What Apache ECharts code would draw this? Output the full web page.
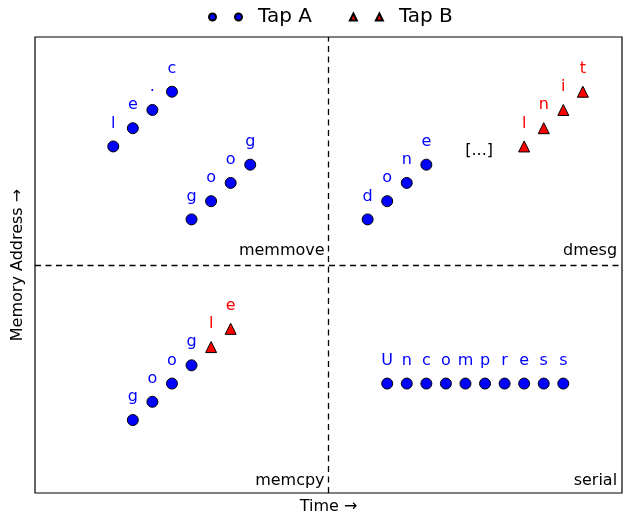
<!DOCTYPE html>
<html><head><meta charset="utf-8">
<script src="https://cdn.jsdelivr.net/npm/echarts@6/dist/echarts.min.js"></script>
<style>html,body{margin:0;padding:0;background:#fff}#c{width:627px;height:514px}</style>
</head><body><div id="c"></div>
<script>
// Tap A points: [time, address, char]
const tapA = [
  [4,19,'l'],[5,20,'e'],[6,21,'.'],[7,22,'c'],
  [8,15,'g'],[9,16,'o'],[10,17,'o'],[11,18,'g'],
  [17,15,'d'],[18,16,'o'],[19,17,'n'],[20,18,'e'],
  [5,4,'g'],[6,5,'o'],[7,6,'o'],[8,7,'g'],
  [18,6,'U'],[19,6,'n'],[20,6,'c'],[21,6,'o'],[22,6,'m'],[23,6,'p'],[24,6,'r'],[25,6,'e'],[26,6,'s'],[27,6,'s']
];
// Tap B points
const tapB = [
  [25,19,'l'],[26,20,'n'],[27,21,'i'],[28,22,'t'],
  [9,8,'l'],[10,9,'e']
];
// Region names and other annotations
const regions = [[14.8,13.3,'memmove'],[29.75,13.3,'dmesg'],[14.8,0.68,'memcpy'],[29.75,0.68,'serial']];
const notes = [[22.7,18.75,'[...]']];
const splitX = 15, splitY = 12.5;
const xRange = [0,30], yRange = [0,25];

const FONT = 'DejaVu Sans';
const pointLabel = (color) => ({
  show: true, position: 'inside', offset: [0,-23],
  formatter: p => p.data[2], color: color, fontSize: 16, fontFamily: FONT, textBorderWidth: 0
});
const twoCircles = 'path://M0,3.5a3.5,3.5 0 1,0 7,0a3.5,3.5 0 1,0 -7,0M26,3.5a3.5,3.5 0 1,0 7,0a3.5,3.5 0 1,0 -7,0';
const twoTris = 'path://M0,7L3.5,0L7,7ZM26,7L29.5,0L33,7Z';

const chart = echarts.init(document.getElementById('c'));
chart.setOption({
  animation: false,
  textStyle: {fontFamily: FONT},
  grid: {left: 35, right: 5, top: 37, bottom: 21, show: true, borderColor: '#000', borderWidth: 1.2,
    outerBoundsMode: 'none', containLabel: false},
  legend: {
    top: 2, left: 203, itemGap: 37, itemWidth: 33, itemHeight: 7,
    textStyle: {fontSize: 20, fontFamily: FONT, color: '#000', padding: [0,0,0,11]},
    data: [{name: 'Tap A', icon: twoCircles}, {name: 'Tap B', icon: twoTris}]
  },
  xAxis: {type: 'value', min: xRange[0], max: xRange[1], name: 'Time →', nameLocation: 'middle', nameGap: 6,
    nameTextStyle: {fontSize: 16, color: '#000', fontFamily: FONT},
    axisLine: {show: false}, axisTick: {show: false}, axisLabel: {show: false}, splitLine: {show: false}},
  yAxis: {type: 'value', min: yRange[0], max: yRange[1], name: 'Memory Address →', nameLocation: 'middle', nameGap: 9,
    nameTextStyle: {fontSize: 16, color: '#000', fontFamily: FONT},
    axisLine: {show: false}, axisTick: {show: false}, axisLabel: {show: false}, splitLine: {show: false}},
  series: [
    {name: 'Tap A', type: 'scatter', symbol: 'circle', symbolSize: 11, data: tapA,
      itemStyle: {color: '#0000ff', borderColor: '#000', borderWidth: 1, opacity: 1},
      label: pointLabel('#0000ff'),
      markLine: {silent: true, symbol: 'none', label: {show: false},
        lineStyle: {color: '#000', type: [6,4.5], width: 1.3},
        data: [{xAxis: splitX}, {yAxis: splitY}]}},
    {name: 'Tap B', type: 'scatter', symbol: 'triangle', symbolSize: 11, data: tapB,
      itemStyle: {color: '#ff0000', borderColor: '#000', borderWidth: 1, opacity: 1},
      label: pointLabel('#ff0000')},
    {name: 'regions', type: 'scatter', symbolSize: 0, data: regions, silent: true,
      itemStyle: {color: '#000', opacity: 1},
      label: {show: true, position: 'inside', align: 'right', verticalAlign: 'middle', textBorderWidth: 0,
        formatter: p => p.data[2], color: '#000', fontSize: 16, fontFamily: FONT}},
    {name: 'notes', type: 'scatter', symbolSize: 0, data: notes, silent: true,
      itemStyle: {color: '#000', opacity: 1},
      label: {show: true, position: 'inside', align: 'center', verticalAlign: 'middle', textBorderWidth: 0,
        formatter: p => p.data[2], color: '#000', fontSize: 16, fontFamily: FONT}}
  ]
});
</script></body></html>
